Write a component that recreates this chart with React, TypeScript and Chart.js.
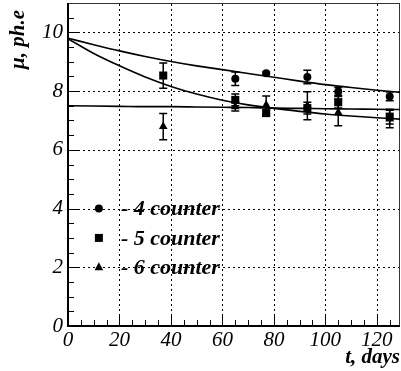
import { useEffect, useRef } from "react";
import { Chart, registerables } from "chart.js";
Chart.register(...registerables);

// measured points (days, mean photoelectrons, error)
const days4 = [65, 77, 93, 105, 125];
const mu4 = [8.42, 8.61, 8.48, 7.99, 7.82];
const err4 = [0.23, 0.05, 0.23, 0.13, 0.15];

const days5 = [37, 65, 77, 93, 105, 125];
const mu5 = [8.53, 7.7, 7.25, 7.42, 7.62, 7.13];
const err5 = [0.43, 0.2, 0.1, 0.2, 0.2, 0.25];

const days6 = [37, 65, 77, 93, 105, 125];
const mu6 = [6.79, 7.47, 7.53, 7.5, 7.27, 7.05];
const err6 = [0.45, 0.15, 0.3, 0.48, 0.45, 0.3];

// fit curves
const fitDays = [0, 10, 20, 30, 40, 50, 60, 70, 80, 90, 100, 110, 120, 130];
const fitUpper = [9.8, 9.58, 9.37, 9.18, 9.01, 8.86, 8.73, 8.6, 8.47, 8.34, 8.22, 8.12, 8.03, 7.95];
const fitSteep = [9.78, 9.28, 8.86, 8.48, 8.16, 7.9, 7.69, 7.53, 7.41, 7.31, 7.22, 7.15, 7.09, 7.04];
const fitFlat = [7.5, 7.49, 7.48, 7.47, 7.47, 7.46, 7.45, 7.44, 7.42, 7.41, 7.4, 7.39, 7.38, 7.37];

const xTicks = [0, 20, 40, 60, 80, 100, 120];
const yTicks = [0, 2, 4, 6, 8, 10];
const xMinorStep = 5;
const yMinorStep = 0.5;
const xMax = 129;
const yMax = 11;

const legendLabels = ["- 4 counter", "- 5 counter", "- 6 counter"];
const legendStyles = ["circle", "rect", "triangle"];
const legendX = 12;
const legendY = [4, 3, 2];

const xTitle = "t, days";
const yTitle = "\u03bc, ph.e";

const FONT = "Liberation Serif";

const pts = (xs: number[], ys: number[]) => xs.map((x, i) => ({ x, y: ys[i] }));

const decorPlugin = {
  id: "decor",
  beforeDatasetsDraw(chart: any) {
    const { ctx, chartArea: a, scales } = chart;
    const xs = scales.x;
    const ys = scales.y;
    ctx.save();
    // dotted grid
    ctx.strokeStyle = "#000";
    ctx.lineWidth = 1;
    ctx.setLineDash([2, 3]);
    for (const v of xTicks) {
      if (v === 0) continue;
      const px = Math.round(xs.getPixelForValue(v)) + 0.5;
      ctx.beginPath();
      ctx.moveTo(px, a.bottom);
      ctx.lineTo(px, a.top);
      ctx.stroke();
    }
    for (const v of yTicks) {
      if (v === 0) continue;
      const py = Math.round(ys.getPixelForValue(v)) + 0.5;
      ctx.beginPath();
      ctx.moveTo(a.left, py);
      ctx.lineTo(a.right, py);
      ctx.stroke();
    }
    ctx.setLineDash([]);
    // ticks
    ctx.lineWidth = 1;
    for (let v = 0; v <= xMax + 1e-9; v += xMinorStep) {
      const major = Math.abs(v % 20) < 1e-9;
      const px = Math.round(xs.getPixelForValue(v)) + 0.5;
      ctx.beginPath();
      ctx.moveTo(px, a.bottom);
      ctx.lineTo(px, a.bottom - (major ? 10 : 6));
      ctx.stroke();
    }
    for (let v = 0; v <= yMax + 1e-9; v += yMinorStep) {
      const major = Math.abs(v % 2) < 1e-9;
      const py = Math.round(ys.getPixelForValue(v)) + 0.5;
      ctx.beginPath();
      ctx.moveTo(a.left, py);
      ctx.lineTo(a.left + (major ? 10 : 6), py);
      ctx.stroke();
    }
    // frame
    ctx.strokeStyle = "#333";
    ctx.lineWidth = 1;
    ctx.strokeRect(a.left + 0.5, a.top + 0.5, a.right - a.left - 1, a.bottom - a.top - 1);
    ctx.strokeStyle = "#000";
    ctx.lineWidth = 2;
    ctx.beginPath();
    ctx.moveTo(a.left, a.top);
    ctx.lineTo(a.left, a.bottom);
    ctx.lineTo(a.right, a.bottom);
    ctx.stroke();

    // error bars
    const sets = [
      [days4, mu4, err4],
      [days5, mu5, err5],
      [days6, mu6, err6],
    ];
    ctx.lineWidth = 1.5;
    for (const [dx, my, er] of sets) {
      dx.forEach((d, i) => {
        const px = xs.getPixelForValue(d);
        const y1 = ys.getPixelForValue(my[i] + er[i]);
        const y2 = ys.getPixelForValue(my[i] - er[i]);
        ctx.beginPath();
        ctx.moveTo(px, y1);
        ctx.lineTo(px, y2);
        ctx.moveTo(px - 4, y1);
        ctx.lineTo(px + 4, y1);
        ctx.moveTo(px - 4, y2);
        ctx.lineTo(px + 4, y2);
        ctx.stroke();
      });
    }
    ctx.restore();
  },
  afterDatasetsDraw(chart: any) {
    const { ctx, chartArea: a, scales } = chart;
    const xs = scales.x;
    const ys = scales.y;
    ctx.save();
    ctx.fillStyle = "#000";
    const mx = xs.getPixelForValue(legendX);
    legendLabels.forEach((lab, i) => {
      const py = ys.getPixelForValue(legendY[i]);
      const st = legendStyles[i];
      ctx.beginPath();
      if (st === "circle") {
        ctx.arc(mx, py, 4, 0, Math.PI * 2);
      } else if (st === "rect") {
        ctx.rect(mx - 4, py - 4, 8, 8);
      } else {
        ctx.moveTo(mx, py - 5);
        ctx.lineTo(mx + 4.3, py + 3);
        ctx.lineTo(mx - 4.3, py + 3);
        ctx.closePath();
      }
      ctx.fill();
      ctx.font = `italic bold 22px ${FONT}`;
      ctx.textBaseline = "middle";
      ctx.textAlign = "left";
      ctx.fillText(lab, mx + 22, py + 1);
    });
    // axis titles
    ctx.font = `italic bold 21px ${FONT}`;
    ctx.textAlign = "right";
    ctx.textBaseline = "alphabetic";
    ctx.fillText(xTitle, a.right, 363);
    ctx.save();
    ctx.translate(24, 10);
    ctx.rotate(-Math.PI / 2);
    ctx.textAlign = "right";
    ctx.fillText(yTitle, 0, 0);
    ctx.restore();
    ctx.restore();
  },
};

export default function App() {
  const ref = useRef<HTMLCanvasElement | null>(null);
  useEffect(() => {
    document.body.style.margin = "0";
    const canvas = ref.current!;
    const pointCommon = { showLine: false, borderColor: "#000", backgroundColor: "#000", borderWidth: 0 };
    const lineCommon = {
      showLine: true,
      pointRadius: 0,
      borderColor: "#000",
      borderWidth: 1.6,
      cubicInterpolationMode: "monotone" as const,
      fill: false,
    };
    const chart = new Chart(canvas, {
      type: "scatter",
      data: {
        datasets: [
          { ...lineCommon, data: pts(fitDays, fitUpper) },
          { ...lineCommon, data: pts(fitDays, fitSteep) },
          { ...lineCommon, data: pts(fitDays, fitFlat) },
          { ...pointCommon, data: pts(days4, mu4), pointStyle: "circle", pointRadius: 4 },
          { ...pointCommon, data: pts(days5, mu5), pointStyle: "rect", pointRadius: 5.7 },
          { ...pointCommon, data: pts(days6, mu6), pointStyle: "triangle", pointRadius: 5 },
        ],
      },
      options: {
        responsive: false,
        animation: false,
        events: [],
        layout: { autoPadding: false, padding: { top: 3, right: 1, left: 0, bottom: 0 } },
        plugins: { legend: { display: false }, tooltip: { enabled: false } },
        scales: {
          x: {
            type: "linear",
            min: 0,
            max: xMax,
            grid: { display: false, drawTicks: false },
            border: { display: false },
            afterBuildTicks: (s: any) => {
              s.ticks = xTicks.map((v) => ({ value: v }));
            },
            afterFit: (s: any) => {
              s.height = 45;
              s.paddingLeft = 0;
              s.paddingRight = 0;
            },
            ticks: {
              color: "#000",
              padding: 2,
              maxRotation: 0,
              font: { family: FONT, style: "italic", size: 21 },
            },
          },
          y: {
            type: "linear",
            min: 0,
            max: yMax,
            grid: { display: false, drawTicks: false },
            border: { display: false },
            afterBuildTicks: (s: any) => {
              s.ticks = yTicks.map((v) => ({ value: v }));
            },
            afterFit: (s: any) => {
              s.width = 68;
              s.paddingTop = 0;
              s.paddingBottom = 0;
            },
            ticks: {
              color: "#000",
              padding: 5,
              font: { family: FONT, style: "italic", size: 21 },
            },
          },
        },
      },
      plugins: [decorPlugin],
    });
    return () => chart.destroy();
  }, []);
  return <canvas ref={ref} width={401} height={371} style={{ display: "block" }} />;
}
